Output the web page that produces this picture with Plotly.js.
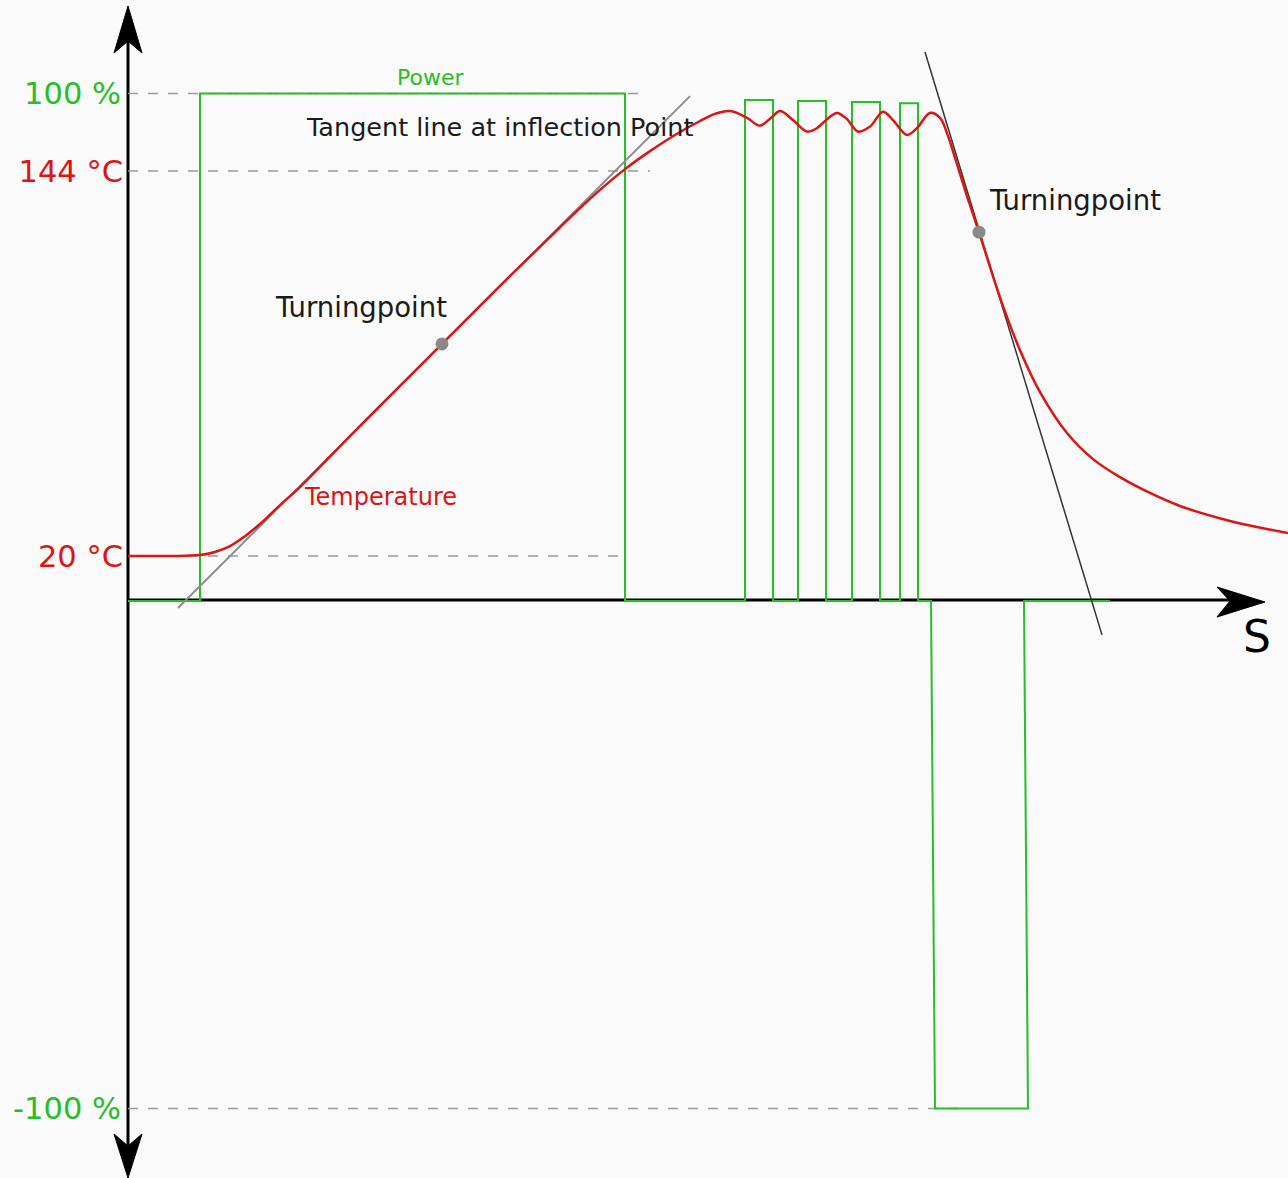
<!DOCTYPE html>
<html>
<head>
<meta charset="utf-8">
<script src="https://cdn.plot.ly/plotly-3.0.1.min.js"></script>
<style>html,body{margin:0;padding:0;background:#fafafa;}#chart{width:1288px;height:1178px;}</style>
</head>
<body>
<div id="chart"></div>
<script>
// ---- data (time in s, power in %, temperature in °C) ----
var powerTime = [0, 72, 72, 497, 497, 617, 617, 645, 645, 670, 670, 698, 698, 724, 724, 752, 752, 772, 772, 790, 790, 803, 807, 900, 896, 982];
var powerPct  = [0, 0, 100, 100, 0, 0, 98.7, 98.7, 0, 0, 98.5, 98.5, 0, 0, 98.3, 98.3, 0, 0, 98.1, 98.1, 0, 0, -100, -100, 0, 0];

var tempTime = [0, 42, 72, 87, 102, 117, 132, 152, 172, 222, 272, 314, 372, 422, 447, 472, 497, 522, 547, 572, 587,
                602, 619, 632, 644, 652, 665, 679, 689, 699, 709, 719, 730, 742, 755, 765, 779, 789, 802, 812,
                819, 829, 839, 851, 864, 875, 892, 912, 939, 965, 992, 1022, 1052, 1102, 1160];
var tempC    = [20.0, 20.0, 20.3, 21.3, 23.2, 26.4, 30.3, 36.4, 42.2, 58.6, 74.8, 88.3, 107.0, 122.7, 130.5, 137.9, 144.6, 150.4, 155.6, 160.1, 162.4,
                163.3, 161.1, 158.6, 161.4, 163.3, 160.4, 156.7, 157.8, 160.7, 162.7, 160.7, 156.7, 158.3, 163.1, 160.4, 155.6, 157.8, 162.7, 161.1,
                156.2, 146.2, 135.9, 124.3, 111.1, 100.5, 86.3, 72.8, 59.6, 51.2, 45.4, 40.3, 36.1, 31.3, 27.4];

var tangentRiseTime = [50, 562];
var tangentRiseC    = [3.25, 168.1];
var tangentFallTime = [797, 974];
var tangentFallC    = [182.3, -5.4];

var turnTime = [314, 851];
var turnC    = [88.3, 124.3];

var powerTicks = [100, -100];
var powerTickText = ['100 %', '-100 %'];
var tempTicks = [144, 20];
var tempTickText = ['144 °C', '20 °C'];

// ---- helpers for layout placement (figure pixels -> paper) ----
var W = 1288, H = 1178, L = 128;
function fx(px){ return (px - L) / (W - L); }
function fy(py){ return (H - py) / H; }

var GREEN = 'rgb(40,190,40)';
var RED = 'rgb(220,20,20)';
var FONT = 'DejaVu Sans, Verdana, sans-serif';

var traces = [
  {x: powerTime, y: powerPct, type: 'scatter', mode: 'lines', yaxis: 'y',
   line: {color: GREEN, width: 2}, name: 'Power'},
  {x: tangentRiseTime, y: tangentRiseC, type: 'scatter', mode: 'lines', yaxis: 'y2',
   line: {color: '#8c8c8c', width: 2}, name: 'Tangent'},
  {x: tangentFallTime, y: tangentFallC, type: 'scatter', mode: 'lines', yaxis: 'y2',
   line: {color: '#333333', width: 1.5}, name: 'Tangent 2'},
  {x: tempTime, y: tempC, type: 'scatter', mode: 'lines', yaxis: 'y2',
   line: {color: RED, width: 2.5, shape: 'spline', smoothing: 1}, name: 'Temperature'},
  {x: turnTime, y: turnC, type: 'scatter', mode: 'markers', yaxis: 'y2',
   marker: {color: '#8a8a8a', size: 13}, name: 'Turningpoint'}
];

function arrow(pts){
  var s = 'M ' + fx(pts[0][0]) + ' ' + fy(pts[0][1]);
  for (var i = 1; i < pts.length; i++) s += ' L ' + fx(pts[i][0]) + ' ' + fy(pts[i][1]);
  return s + ' Z';
}

var dash = {color: '#9a9a9a', width: 1.6, dash: '10px,10px'};

var shapes = [
  // reference dashed lines
  {type: 'line', xref: 'x', yref: 'y', x0: 0, x1: 512, y0: 100, y1: 100, line: dash, layer: 'below'},
  {type: 'line', xref: 'x', yref: 'y2', x0: 0, x1: 522, y0: 144, y1: 144, line: dash, layer: 'below'},
  {type: 'line', xref: 'x', yref: 'y2', x0: 0, x1: 497, y0: 20, y1: 20, line: dash, layer: 'below'},
  {type: 'line', xref: 'x', yref: 'y', x0: 0, x1: 835, y0: -100, y1: -100, line: dash, layer: 'below'},
  // axes
  {type: 'line', xref: 'paper', yref: 'paper', x0: fx(128), x1: fx(128), y0: fy(30), y1: fy(1165),
   line: {color: '#000', width: 3}, layer: 'below'},
  {type: 'line', xref: 'paper', yref: 'paper', x0: fx(128), x1: fx(1235), y0: fy(600), y1: fy(600),
   line: {color: '#000', width: 3}, layer: 'below'},
  // arrowheads
  {type: 'path', xref: 'paper', yref: 'paper', path: arrow([[128,6],[142,53],[128,41],[114,53]]),
   fillcolor: '#000', line: {color: '#000', width: 1}},
  {type: 'path', xref: 'paper', yref: 'paper', path: arrow([[128,1178],[142,1134],[128,1146],[114,1134]]),
   fillcolor: '#000', line: {color: '#000', width: 1}},
  {type: 'path', xref: 'paper', yref: 'paper', path: arrow([[1265,602],[1217,587],[1230,601],[1217,617]]),
   fillcolor: '#000', line: {color: '#000', width: 1}}
];

function label(text, px, py, size, color){
  return {text: text, xref: 'paper', yref: 'paper', x: fx(px), y: fy(py),
          xanchor: 'center', yanchor: 'middle', showarrow: false,
          font: {family: FONT, size: size, color: color}};
}

var annotations = [
  label('Power', 430, 78, 22, GREEN),
  label('Tangent line at inflection Point', 500, 127, 25.5, '#1a1a1a'),
  label('Turningpoint', 361, 307, 27.5, '#1a1a1a'),
  label('Turningpoint', 1075, 200, 27.5, '#1a1a1a'),
  label('Temperature', 380, 497, 24, RED),
  label('S', 1257, 637, 44, '#000')
];

var layout = {
  width: W, height: H, autosize: false,
  margin: {l: L, r: 0, t: 0, b: 0, pad: 0},
  paper_bgcolor: '#fafafa', plot_bgcolor: 'rgba(0,0,0,0)',
  showlegend: false, hovermode: false,
  font: {family: FONT},
  xaxis: {range: [0, 1160], showgrid: false, zeroline: false, showline: false,
          showticklabels: false, ticks: ''},
  yaxis: {range: [-113.69, 118.42], tickvals: powerTicks, ticktext: powerTickText,
          showgrid: false, zeroline: false, showline: false, ticks: '',
          ticklabelstandoff: 6, tickfont: {family: FONT, size: 30.5, color: GREEN}},
  yaxis2: {range: [-180.32, 199.07], overlaying: 'y', side: 'left', anchor: 'x',
           tickvals: tempTicks, ticktext: tempTickText,
           showgrid: false, zeroline: false, showline: false, ticks: '',
           ticklabelstandoff: 4, tickfont: {family: FONT, size: 30.5, color: RED}},
  shapes: shapes,
  annotations: annotations
};

Plotly.newPlot('chart', traces, layout, {displayModeBar: false, staticPlot: true});
</script>
</body>
</html>
